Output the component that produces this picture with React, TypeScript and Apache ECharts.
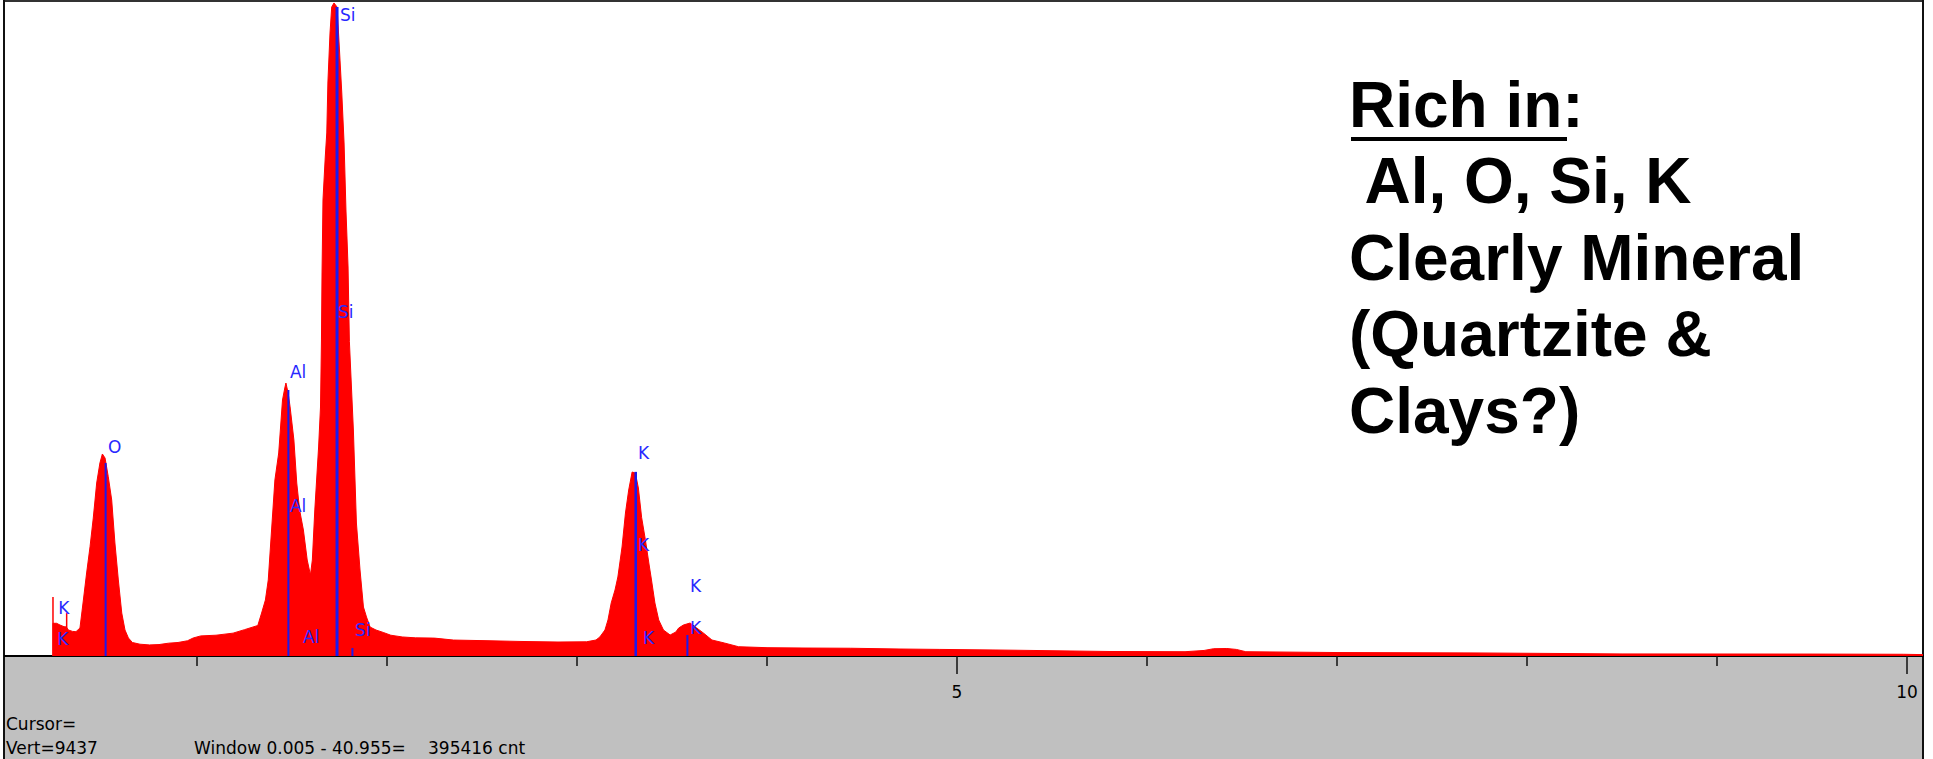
import React, { useEffect, useRef } from 'react';
import * as echarts from 'echarts';

// ---- Spectrum (energy in keV, counts) ----
const spectrumEnergy = [
  0.242, 0.242, 0.261, 0.279, 0.300, 0.312, 0.323, 0.345, 0.363, 0.384,
  0.402, 0.419, 0.437, 0.454, 0.472, 0.489, 0.502, 0.516, 0.533, 0.551,
  0.568, 0.586, 0.604, 0.621, 0.639, 0.660, 0.700, 0.750, 0.800, 0.850,
  0.900, 0.950, 0.980, 1.020, 1.100, 1.190, 1.250, 1.300, 1.320, 1.340,
  1.360, 1.375, 1.390, 1.410, 1.430, 1.450, 1.462, 1.468, 1.480, 1.490,
  1.510, 1.525, 1.540, 1.560, 1.580, 1.597, 1.607, 1.620, 1.640, 1.650,
  1.655, 1.658, 1.663, 1.675, 1.683, 1.689, 1.700, 1.709, 1.721, 1.737,
  1.747, 1.762, 1.774, 1.784, 1.795, 1.802, 1.823, 1.839, 1.858, 1.876,
  1.892, 1.911, 1.942, 1.980, 2.020, 2.080, 2.150, 2.250, 2.350, 2.500,
  2.700, 2.900, 3.050, 3.100, 3.120, 3.147, 3.163, 3.180, 3.200, 3.215,
  3.237, 3.255, 3.272, 3.290, 3.307, 3.323, 3.340, 3.360, 3.378, 3.392,
  3.410, 3.430, 3.455, 3.490, 3.520, 3.535, 3.560, 3.595, 3.630, 3.665,
  3.710, 3.775, 3.850, 4.000, 4.200, 4.440, 4.700, 4.910, 5.200, 5.400,
  5.800, 6.200, 6.300, 6.350, 6.420, 6.470, 6.520, 7.000, 7.700, 8.500,
  9.500, 9.980, 10.084,
];
const spectrumCounts = [
  0, 472, 472, 447, 423, 420, 375, 355, 351, 404,
  808, 1198, 1577, 1990, 2496, 2785, 2915, 2857, 2587, 2251,
  1630, 1097, 620, 375, 260, 195, 170, 160, 165, 185,
  195, 220, 260, 290, 300, 330, 380, 423, 440, 620,
  808, 1097, 1717, 2540, 2929, 3694, 3867, 3939, 3790, 3593,
  3117, 2496, 2107, 1818, 1385, 1169, 1385, 2107, 3016, 3593,
  4560, 5527, 6580, 7200, 7547, 8283, 8990, 9365, 9423, 9365,
  8889, 8124, 7403, 6436, 5613, 4540, 3261, 1919, 1241, 707,
  563, 418, 375, 340, 300, 275, 262, 258, 230, 222,
  210, 202, 205, 231, 274, 375, 520, 765, 952, 1140,
  1573, 2063, 2395, 2655, 2640, 2424, 2000, 1674, 1342, 1097,
  765, 520, 375, 303, 346, 404, 447, 476, 404, 332,
  231, 188, 134, 120, 115, 112, 101, 95, 87, 80,
  65, 62, 80, 105, 108, 95, 62, 50, 45, 30,
  28, 25, 20,
];

// ---- Element marker lines ----
const lineEnergy = [0.242, 0.314, 0.519, 1.481, 1.737, 1.818, 3.309, 3.581];
const lineTop = [851, 620, 2785, 3838, 9365, 115, 2657, 303];
const lineColor = ['#ff0000', '#ff0000', '#1a1aee', '#1a1aee', '#1a1aee', '#1a1aee', '#1a1aee', '#1a1aee'];
const lineWidth = [1.5, 1.5, 2, 2, 3, 2, 2.5, 2];

// ---- Element labels ----
const labelText = ['K', 'K', 'O', 'Al', 'Al', 'Al', 'Si', 'Si', 'Si', 'K', 'K', 'K', 'K', 'K'];
const labelEnergy = [0.270, 0.265, 0.532, 1.489, 1.489, 1.558, 1.753, 1.742, 1.832, 3.321, 3.321, 3.347, 3.595, 3.595];
const labelCount = [693, 245, 3016, 4098, 2165, 274, 9250, 4964, 375, 2929, 1602, 260, 1010, 404];

// ---- Axis ticks ----
const minorTicks = [1, 2, 3, 4, 6, 7, 8, 9];
const majorTicks = [5, 10];
const xMax = 10.084;
const yMax = 9437;

// ---- Texts ----
const noteLines = ['Rich in:', ' Al, O, Si, K', 'Clearly Mineral', '(Quartzite &', 'Clays?)'];
const statusCursor = 'Cursor=';
const statusVert = 'Vert=9437';
const statusWindow = 'Window 0.005 - 40.955=';
const statusCount = '395416 cnt';

const W = 1933;
const H = 759;

export default function App() {
  const ref = useRef<HTMLDivElement>(null);

  useEffect(() => {
    if (!ref.current) return;
    const chart = echarts.init(ref.current, undefined, { renderer: 'svg', width: W, height: H });

    const statusFont = { fontFamily: '"DejaVu Sans", sans-serif', fontSize: 17 };
    const graphic: any[] = [
      { type: 'rect', silent: true, shape: { x: 0, y: 0, width: 4, height: H }, style: { fill: '#ffffff' } },
      { type: 'rect', silent: true, shape: { x: 4, y: 0, width: 3, height: 656 }, style: { fill: '#ffffff' } },
      { type: 'rect', silent: true, shape: { x: 1923, y: 0, width: W - 1923, height: H }, style: { fill: '#ffffff' } },
      { type: 'line', silent: true, shape: { x1: 4, y1: 1, x2: 1923, y2: 1 }, style: { stroke: '#333', lineWidth: 2 } },
      { type: 'line', silent: true, shape: { x1: 4, y1: 0, x2: 4, y2: H }, style: { stroke: '#111', lineWidth: 2 } },
      { type: 'line', silent: true, shape: { x1: 1923, y1: 0, x2: 1923, y2: H }, style: { stroke: '#111', lineWidth: 2 } },
      { type: 'line', silent: true, shape: { x1: 4, y1: 656, x2: 8, y2: 656 }, style: { stroke: '#000', lineWidth: 2 } },
      {
        type: 'text', x: 6, y: 724,
        style: { text: statusCursor, fill: '#000', ...statusFont, textAlign: 'left', textVerticalAlign: 'middle' },
      },
      {
        type: 'text', x: 6, y: 748,
        style: { text: statusVert, fill: '#000', ...statusFont, textAlign: 'left', textVerticalAlign: 'middle' },
      },
      {
        type: 'text', x: 194, y: 748,
        style: { text: statusWindow, fill: '#000', ...statusFont, textAlign: 'left', textVerticalAlign: 'middle' },
      },
      {
        type: 'text', x: 428, y: 748,
        style: { text: statusCount, fill: '#000', ...statusFont, textAlign: 'left', textVerticalAlign: 'middle' },
      },
      { type: 'rect', silent: true, shape: { x: 1351, y: 137, width: 216, height: 4 }, style: { fill: '#000' } },
    ];
    noteLines.forEach((t, i) => {
      graphic.push({
        type: 'text',
        x: 1349,
        y: 104.5 + i * 76.5,
        style: {
          text: t,
          fill: '#000',
          fontFamily: '"Liberation Sans", Arial, sans-serif',
          fontWeight: 'bold',
          fontSize: 64,
          textAlign: 'left',
          textVerticalAlign: 'middle',
        },
      });
    });

    const option: any = {
      animation: false,
      backgroundColor: '#c0c0c0',
      grid: {
        left: 7, top: 2, right: W - 1923, bottom: H - 656,
        show: true, backgroundColor: '#ffffff', borderWidth: 0,
      },
      xAxis: [
        {
          type: 'value', min: 0, max: xMax, position: 'bottom',
          axisLine: { show: true, onZero: false, lineStyle: { color: '#000', width: 2 } },
          axisTick: { show: true, customValues: minorTicks, length: 10, lineStyle: { color: '#111', width: 1.5 } },
          axisLabel: { show: false },
          splitLine: { show: false },
        },
        {
          type: 'value', min: 0, max: xMax, position: 'bottom',
          axisLine: { show: false, onZero: false },
          axisTick: { show: true, customValues: majorTicks, length: 18, lineStyle: { color: '#111', width: 1.5 } },
          axisLabel: {
            show: true, customValues: majorTicks, margin: 27, color: '#000',
            fontSize: 17, fontFamily: '"DejaVu Sans", sans-serif',
            formatter: (v: number) => String(v),
          },
          splitLine: { show: false },
        },
      ],
      yAxis: {
        type: 'value', min: 0, max: yMax, show: false,
        splitLine: { show: false },
      },
      series: [
        {
          type: 'line',
          xAxisIndex: 0,
          data: spectrumEnergy.map((e, i) => [e, spectrumCounts[i]]),
          symbol: 'none',
          lineStyle: { color: '#ff0000', width: 1 },
          areaStyle: { color: '#ff0000', opacity: 1 },
          z: 2,
        },
        {
          type: 'custom',
          xAxisIndex: 0,
          data: lineEnergy.map((e, i) => [e, lineTop[i]]),
          encode: { x: 0, y: 1 },
          z: 3,
          renderItem: (params: any, api: any) => {
            const i = params.dataIndex;
            const p0 = api.coord([api.value(0), 0]);
            const p1 = api.coord([api.value(0), api.value(1)]);
            return {
              type: 'line',
              shape: { x1: p0[0], y1: p0[1], x2: p1[0], y2: p1[1] },
              style: { stroke: lineColor[i], lineWidth: lineWidth[i] },
            };
          },
        },
        {
          type: 'custom',
          xAxisIndex: 0,
          data: labelEnergy.map((e, i) => [e, labelCount[i]]),
          encode: { x: 0, y: 1 },
          z: 4,
          renderItem: (params: any, api: any) => {
            const i = params.dataIndex;
            const p = api.coord([api.value(0), api.value(1)]);
            return {
              type: 'text',
              x: p[0],
              y: p[1],
              style: {
                text: labelText[i],
                fill: '#2828ff',
                fontFamily: '"DejaVu Sans", sans-serif',
                fontSize: 17,
                textAlign: 'left',
                textVerticalAlign: 'middle',
              },
            };
          },
        },
      ],
      graphic,
    };

    chart.setOption(option);
    return () => chart.dispose();
  }, []);

  return (
    <div
      ref={ref}
      style={{ position: 'absolute', left: 0, top: 0, width: W, height: H }}
    />
  );
}
